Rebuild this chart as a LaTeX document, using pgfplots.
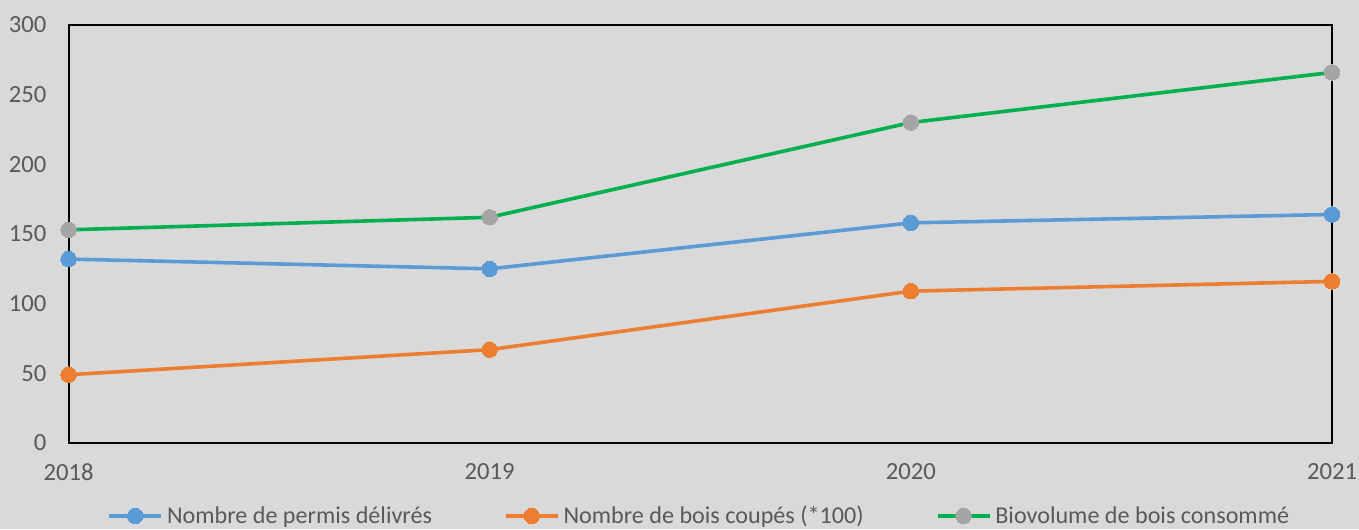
\documentclass[border=0pt]{standalone}
\usepackage{fontspec}
\setmainfont{Carlito}
\usepackage{pgfplots}
\pgfplotsset{compat=1.18}
\definecolor{bg}{HTML}{D9D9D9}
\definecolor{txt}{HTML}{595959}
\definecolor{cblue}{HTML}{5B9BD5}
\definecolor{corange}{HTML}{ED7D31}
\definecolor{cgreen}{HTML}{00B050}
\definecolor{cgrey}{HTML}{A5A5A5}
\begin{document}
\begin{tikzpicture}
\fill[bg] (0,0) rectangle (1019.25pt,396.75pt);
\useasboundingbox (0,0) rectangle (1019.25pt,396.75pt);
\begin{axis}[
  at={(51.4pt,64.5pt)}, anchor=origin,
  scale only axis, width=947.6pt, height=313.5pt,
  xmin=2018, xmax=2021, ymin=0, ymax=300,
  xtick={2018,2019,2020,2021},
  xticklabels={2018,2019,2020,2021},
  ytick={0,50,100,150,200,250,300},
  major tick length=0pt,
  axis line style={black, line width=1.5pt},
  clip=false,
  font=\fontsize{18.5}{22}\selectfont,
  tick label style={text=txt, font=\fontsize{18.5}{22}\selectfont},
  /pgf/number format/assume math mode=true,
  yticklabel style={anchor=east, inner sep=0pt, xshift=-16.5pt},
  xticklabel style={anchor=north, inner sep=0pt, yshift=-15pt},
  legend columns=3,
  legend style={draw=none, fill=none, at={(0.5,-0.1745)}, anchor=center,
    /tikz/every even column/.append style={column sep=51pt},
    text=txt, font=\fontsize{18.1}{21}\selectfont, inner sep=0pt,
    nodes={inner xsep=3pt}},
  legend cell align=left,
  legend image code/.code={%
    \draw[mark repeat=2, mark phase=2] plot coordinates {(0pt,0pt) (19.5pt,0pt) (39pt,0pt)};},
]
\addplot[cblue, line width=2.7pt, mark=*, mark size=5.8pt, mark options={fill=cblue, draw=cblue, line width=0pt}]
  coordinates {(2018,132) (2019,125) (2020,158) (2021,164)};
\addlegendentry{Nombre de permis délivrés}
\addplot[corange, line width=2.7pt, mark=*, mark size=5.8pt, mark options={fill=corange, draw=corange, line width=0pt}]
  coordinates {(2018,49) (2019,67) (2020,109) (2021,116)};
\addlegendentry{Nombre de bois coupés (*100)}
\addplot[cgreen, line width=2.7pt, mark=*, mark size=5.8pt, mark options={fill=cgrey, draw=cgrey, line width=0pt}]
  coordinates {(2018,153) (2019,162) (2020,230) (2021,266)};
\addlegendentry{Biovolume de bois consommé}
\end{axis}
\end{tikzpicture}
\end{document}
